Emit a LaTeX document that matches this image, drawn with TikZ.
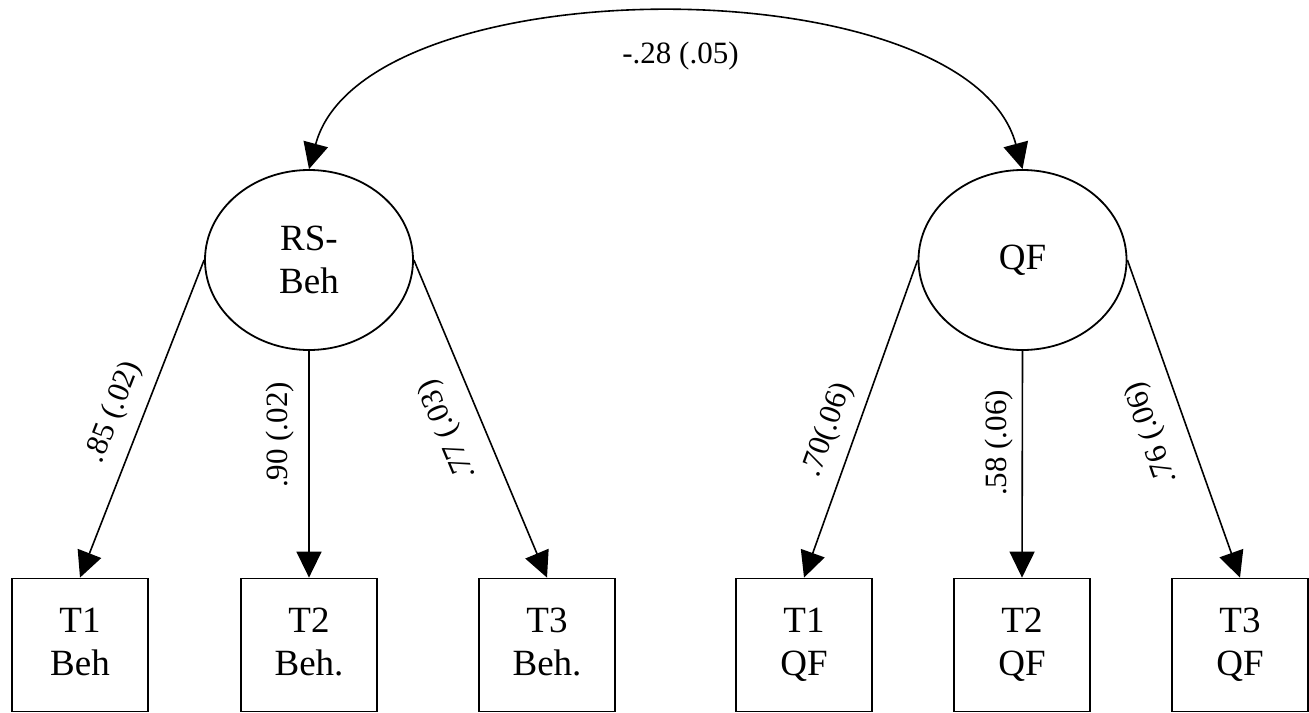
\documentclass[tikz,border=0pt]{standalone}
\usepackage{fontspec}
\setmainfont{Liberation Serif}
\usetikzlibrary{shapes.geometric,arrows.meta}
\begin{document}
\begin{tikzpicture}[x=0.5pt,y=-0.5pt,
  latent/.style={draw,ellipse,line width=0.9pt,inner sep=0pt,minimum width=104pt,minimum height=90pt,align=center,font=\fontsize{18.5}{21.5}\selectfont},
  observed/.style={draw,rectangle,line width=0.9pt,inner sep=0pt,minimum width=68pt,minimum height=66.5pt,align=center,font=\fontsize{18.5}{21.5}\selectfont},
  path/.style={line width=0.8pt,-{Triangle[length=13pt,width=12.5pt]}},
  covpath/.style={line width=0.8pt,{Triangle[length=13pt,width=12.5pt]}-{Triangle[length=13pt,width=12.5pt]}},
  coef/.style={inner sep=0pt,font=\fontsize{15.5}{18}\selectfont}
]
\useasboundingbox (0,0) rectangle (1309,712);
\node[latent] (rs) at (309,260) {RS-\\Beh};
\node[latent] (qf) at (1022.5,260) {QF};
\node[observed] (b1) at (80,645) {T1\\Beh\vphantom{Q}};
\node[observed] (b2) at (309,645) {T2\\Beh.\vphantom{Q}};
\node[observed] (b3) at (547,645) {T3\\Beh.\vphantom{Q}};
\node[observed] (q1) at (804,645) {T1\\QF};
\node[observed] (q2) at (1022,645) {T2\\QF};
\node[observed] (q3) at (1240,645) {T3\\QF};
\draw[covpath] (rs.north) .. controls +(55,-205) and +(-55,-205) .. (qf.north);
\node[coef] (c0) at (680.5,56) {-.28 (.05)};
\draw[path] (rs.west) -- (b1.north);
\draw[path] (rs.south) -- (b2.north);
\draw[path] (rs.east) -- (b3.north);
\draw[path] (qf.west) -- (q1.north);
\draw[path] (qf.south) -- (q2.north);
\draw[path] (qf.east) -- (q3.north);
\node[coef,rotate=68.7] (l1) at (114,412) {.85 (.02)};
\node[coef,rotate=90] (l2) at (280,435) {.90 (.02)};
\node[coef,rotate=112.8] (l3) at (448,430) {.77 (.03)};
\node[coef,rotate=70.3] (l4) at (828,430) {.70(.06)};
\node[coef,rotate=90] (l5) at (999,443) {.58 (.06)};
\node[coef,rotate=109.2] (l6) at (1152,433) {.76 (.06)};
\end{tikzpicture}
\end{document}
